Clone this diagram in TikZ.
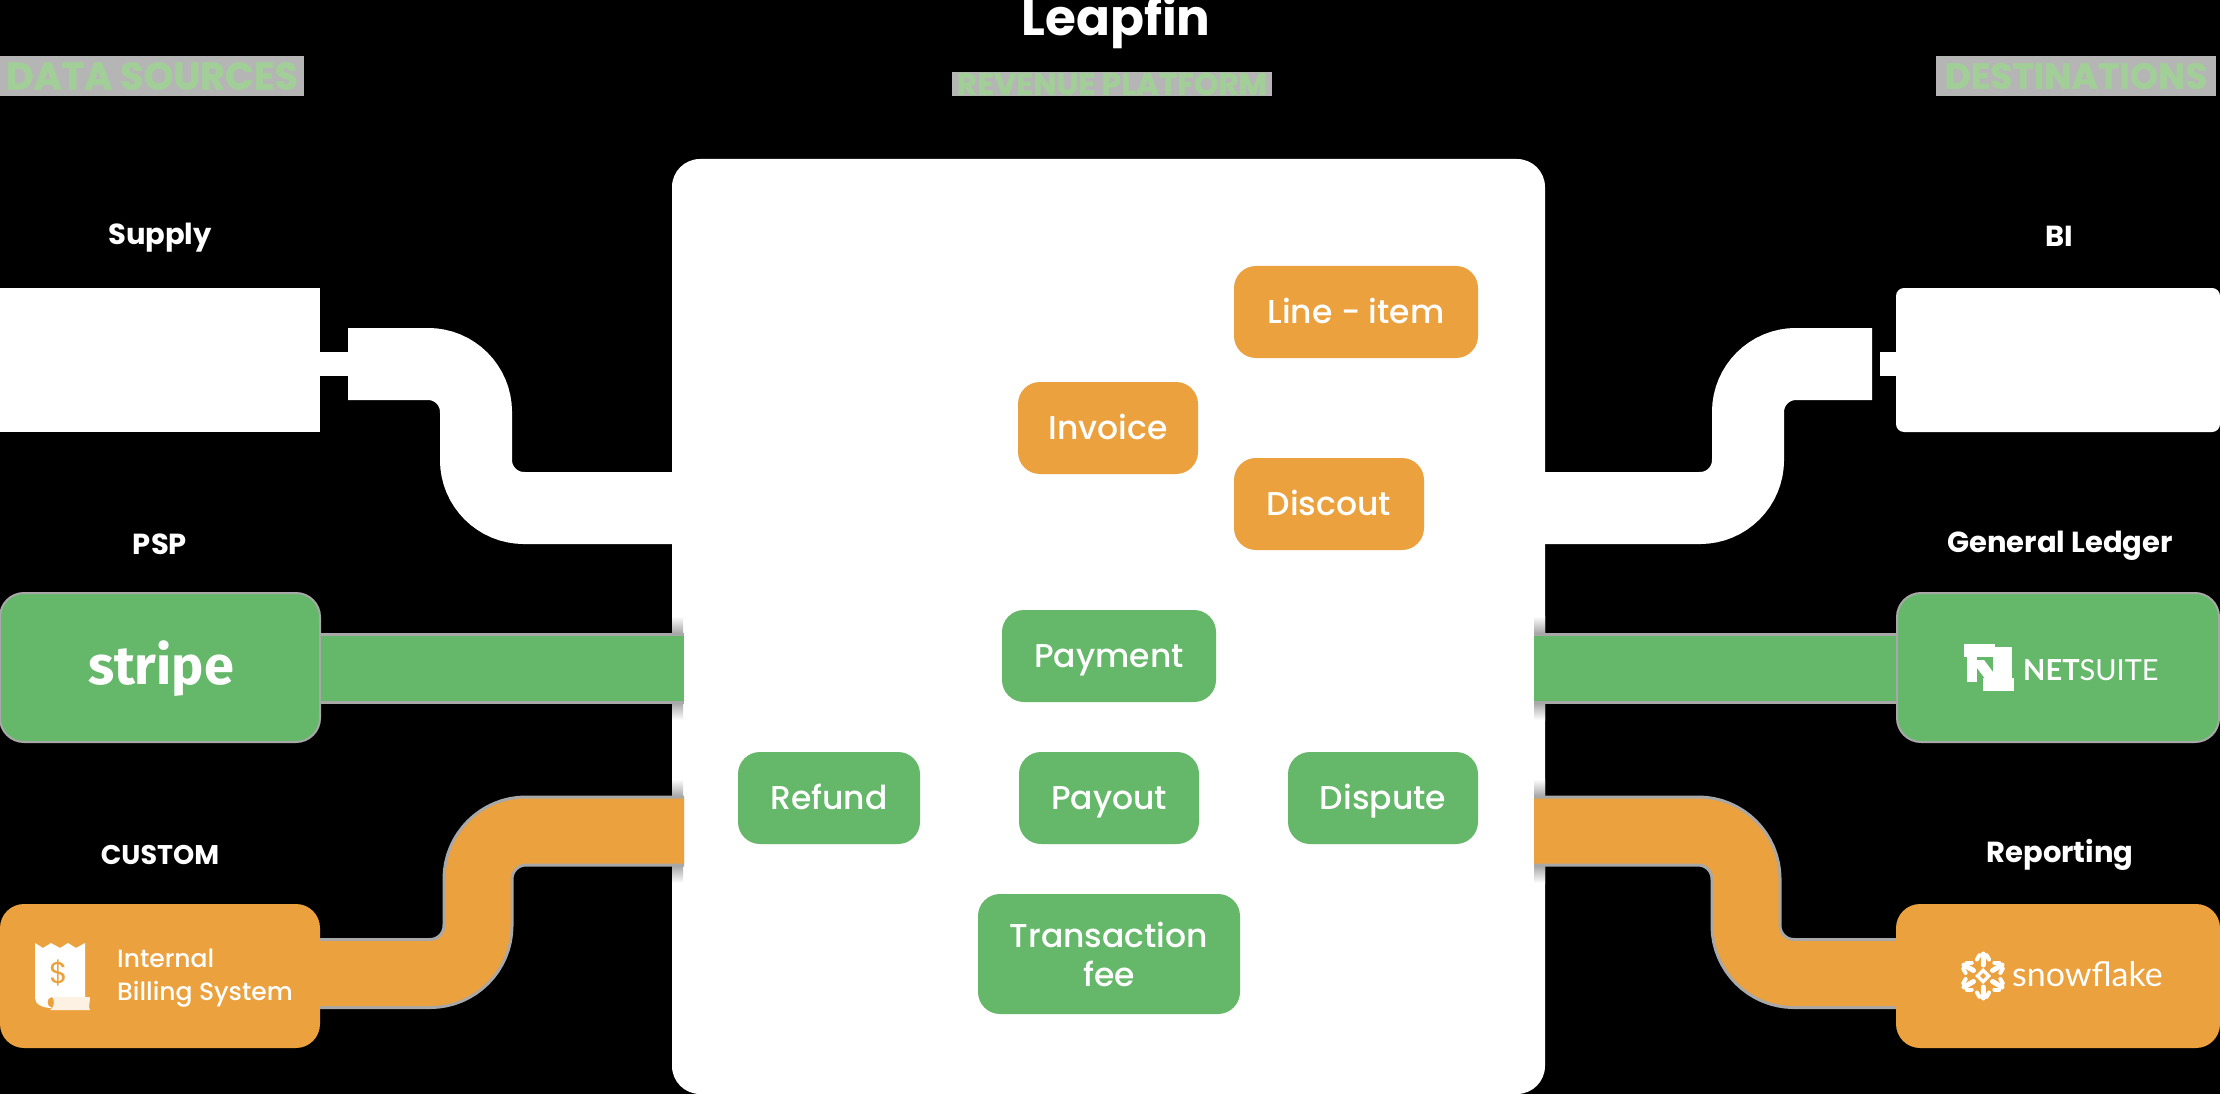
\documentclass[tikz,border=0pt]{standalone}
\usepackage{xcolor}
\usepackage{fontspec}
\setmainfont{Poppins}[BoldFeatures={FakeBold=1.2}]
\newfontfamily\medfont{Poppins Medium}
\newfontfamily\labelfont{Poppins}
\newfontfamily\logofont{Fira Sans}
\newfontfamily\latofont{Lato}
\definecolor{leafgreen}{HTML}{65B76A}
\definecolor{amber}{HTML}{EBA13E}
\definecolor{fringe}{HTML}{A8A8A8}
\definecolor{headgreen}{HTML}{A2CF98}
\definecolor{headgrey}{HTML}{B5B5B5}
\newcommand{\pxfont}[1]{\fontsize{#1}{#1}\selectfont}
\tikzset{
	entity/.style={rectangle, rounded corners=22pt, text=white, align=center, inner sep=0pt, minimum height=92pt, font=\medfont\pxfont{33}},
	oneline/.style={text height=22pt, text depth=0pt},
	sidebox/.style={rectangle, rounded corners=24pt, inner sep=0pt, minimum width=320pt, text=white},
	heading/.style={rectangle, fill=headgrey, text=headgreen, inner sep=0pt},
	sidelabel/.style={text=white, inner sep=0pt, font=\labelfont\bfseries\pxfont{29}},
	ribbon/.style={line width=65pt, rounded corners=48pt, preaction={draw=fringe, line width=71pt}},
	whiteribbon/.style={draw=white, line width=72pt, rounded corners=48pt},
}

\begin{document}
\begin{tikzpicture}[x=1pt,y=-1pt]
	\fill[black] (0,0) rectangle (2220,1094);
	\useasboundingbox (0,0) rectangle (2220,1094);

	\node [heading, minimum width=304pt, minimum height=40pt, font=\bfseries\pxfont{38}] (sourceshead) at (152,76) {DATA SOURCES};
	\node [heading, minimum width=320pt, minimum height=24pt, font=\bfseries\pxfont{31}] (platformhead) at (1112,84) {REVENUE PLATFORM};
	\node [heading, minimum width=280pt, minimum height=40pt, font=\bfseries\pxfont{36}] (targetshead) at (2076,76) {DESTINATIONS};
	\node [sidelabel, font=\labelfont\bfseries\pxfont{50}] (brand) at (1116,22) {Leapfin};

	\node [rectangle, rounded corners=28pt, fill=white, minimum width=873pt, minimum height=935pt, inner sep=0pt] (platform) at (1108.5,626.5) {};

	\node [sidebox, fill=white, rounded corners=0pt, minimum height=144pt] (srcA) at (160,360) {};
	\node [sidebox, fill=leafgreen, draw=fringe, line width=2pt, minimum height=149pt] (srcB) at (160,667.5) {};
	\node [sidebox, fill=amber, minimum height=144pt] (srcC) at (160,976) {};
	\node [sidebox, fill=white, rounded corners=8pt, minimum width=324pt, minimum height=144pt] (dstA) at (2058,360) {};
	\node [sidebox, fill=leafgreen, draw=fringe, line width=2pt, minimum width=322pt, minimum height=149pt] (dstB) at (2058,667.5) {};
	\node [sidebox, fill=amber, minimum width=324pt, minimum height=144pt] (dstC) at (2058,976) {};

	\node [sidelabel] (labelA) at (160,238) {Supply};
	\node [sidelabel] (labelB) at (160,544) {PSP};
	\node [sidelabel, font=\labelfont\bfseries\pxfont{27}] (labelC) at (160,855) {CUSTOM};
	\node [sidelabel] (labelD) at (2059,236) {BI};
	\node [sidelabel] (labelE) at (2060,546) {General Ledger};
	\node [sidelabel] (labelF) at (2060,855) {Reporting};

	\coordinate (inA) at (672,508);
	\coordinate (inB) at (684,668);
	\coordinate (inC) at (684,831);
	\coordinate (outA) at (1545,508);
	\coordinate (outB) at (1534,668);
	\coordinate (outC) at (1534,831);
	\coordinate (startA) at (348,364);
	\coordinate (endA) at (1872,364);

	\draw [white, line width=24pt] (srcA.east |- startA) -- (startA);
	\draw [white, line width=24pt] (dstA.west |- endA) -- ++(-16,0);
	\draw [whiteribbon] (startA) -- (476,364) -- (476,508) -- (inA);
	\draw [whiteribbon] (endA) -- (1748,364) -- (1748,508) -- (outA);
	\draw [ribbon, leafgreen] (srcB.east |- inB) -- (inB);
	\draw [ribbon, leafgreen] (dstB.west |- outB) -- (outB);
	\draw [ribbon, amber] (srcC.east |- 0,973.5) -- (478,973.5) -- (478,831) -- (inC);
	\draw [ribbon, amber] (dstC.west |- 0,973.5) -- (1746,973.5) -- (1746,831) -- (outC);
	\foreach \px/\py in {672/668, 672/831, 1534/668, 1534/831} {
		\shade [top color=white, bottom color=fringe] (\px,\py-52) rectangle (\px+11,\py-35);
		\shade [top color=fringe, bottom color=white] (\px,\py+35) rectangle (\px+11,\py+52);
	}

	\node [entity, oneline, fill=amber, minimum width=244pt] (lineitem) at (1356,312) {Line - item};
	\node [entity, oneline, fill=amber, minimum width=180pt] (invoice) at (1108,428) {Invoice};
	\node [entity, oneline, fill=amber, minimum width=190pt] (discount) at (1329,504) {Discout};
	\node [entity, oneline, fill=leafgreen, minimum width=214pt] (payment) at (1109,656) {Payment};
	\node [entity, oneline, fill=leafgreen, minimum width=182pt] (refund) at (829,798) {Refund};
	\node [entity, oneline, fill=leafgreen, minimum width=180pt] (payout) at (1109,798) {Payout};
	\node [entity, oneline, fill=leafgreen, minimum width=190pt] (dispute) at (1383,798) {Dispute};
	\node [entity, fill=leafgreen, minimum width=262pt, minimum height=120pt, font=\medfont\fontsize{33}{39}\selectfont] (fee) at (1109,954) {Transaction\\fee};

	\node [text=white, inner sep=0pt, font=\logofont\bfseries\pxfont{54}] (stripe) at (161,669) {stripe};

	\fill [white] (35,943) -- (43,948) -- (51,943) -- (60,948) -- (68,943) -- (76,948) -- (85,943) -- (85,997) -- (52,997) .. controls (46,997) and (46,1007) .. (52,1008) .. controls (42,1008) and (35,1004) .. (35,998) -- cycle;
	\fill [white!85!amber] (50,1010) .. controls (56,1006) and (54,998) .. (52,997) -- (90,997) .. controls (90,1002) and (88,1008) .. (90,1010) -- cycle;
	\node [text=amber, inner sep=0pt, font=\labelfont\pxfont{30}] (dollar) at (59,973) {\$};
	\node [text=white, inner sep=0pt, anchor=west, align=left, font=\medfont\fontsize{25}{33}\selectfont] (billing) at (117,978) {Internal\\Billing System};

	\fill [white] (1964,644) rectangle (1995,657);
	\fill [white] (1967,657) rectangle (1977,682);
	\fill [white] (1993,647) rectangle (2012,679);
	\fill [white] (1983,678) rectangle (2014,691);
	\fill [white] (1977,660) -- (1984,660) -- (1993,672) -- (1993,680) -- (1986,680) -- (1977,668) -- cycle;
	\node [text=white, inner sep=0pt, anchor=west, font=\latofont\pxfont{29}] (netsuite) at (2023,670) {\textbf{NET}SUITE};

	\foreach \ang in {30,90,...,330} {
		\draw [white, line width=5pt, line cap=round] (1983,976) ++(\ang:11) -- ++(\ang:11);
		\draw [white, line width=4pt, line cap=round] (1983,976) ++(\ang:13) ++(\ang+60:7) -- ++(\ang-30:5);
		\draw [white, line width=4pt, line cap=round] (1983,976) ++(\ang:13) ++(\ang-60:7) -- ++(\ang+30:5);
	}
	\fill [white] (1983,968) -- (1991,976) -- (1983,984) -- (1975,976) -- cycle;
	\fill [amber] (1983,973) -- (1986,976) -- (1983,979) -- (1980,976) -- cycle;
	\node [text=white, inner sep=0pt, anchor=west, font=\latofont\pxfont{34}] (snowflake) at (2012,974) {snowflake};
\end{tikzpicture}
\end{document}
